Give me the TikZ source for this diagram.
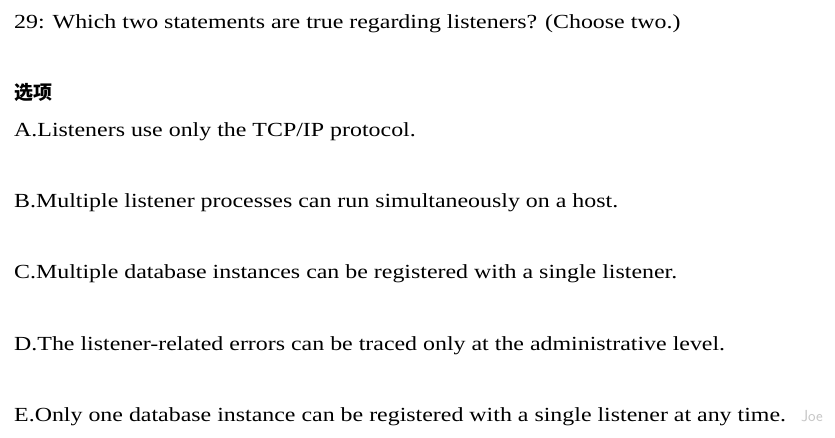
\documentclass[tikz,border=0pt]{standalone}
\usepackage{fontspec}
\setmainfont{Liberation Serif}[FakeStretch=1.195]
\newfontfamily\cjk{Noto Sans CJK SC}
\begin{document}
\begin{tikzpicture}[x=1pt,y=-1pt,txt/.style={anchor=base west,inner sep=0pt,font=\fontsize{20}{24}\selectfont}]
\useasboundingbox[fill=white] (0,0) rectangle (835,437);
\node[txt] (q) at (14,28) {29: Which two statements are true regarding listeners? (Choose two.)};
\node[txt,font=\fontsize{19}{24}\cjk\bfseries] (h) at (14,99) {选项};
\node[txt] (a) at (14,136) {A.Listeners use only the TCP/IP protocol.};
\node[txt] (b) at (14,207) {B.Multiple listener processes can run simultaneously on a host.};
\node[txt] (c) at (14,278) {C.Multiple database instances can be registered with a single listener.};
\node[txt] (d) at (14,350) {D.The listener-related errors can be traced only at the administrative level.};
\node[txt] (e) at (14,421) {E.Only one database instance can be registered with a single listener at any time.};
\node[anchor=base east,inner sep=0pt,font=\sffamily\fontsize{16}{18}\selectfont,text=black!22] (w) at (823,421) {Joe};
\end{tikzpicture}
\end{document}
